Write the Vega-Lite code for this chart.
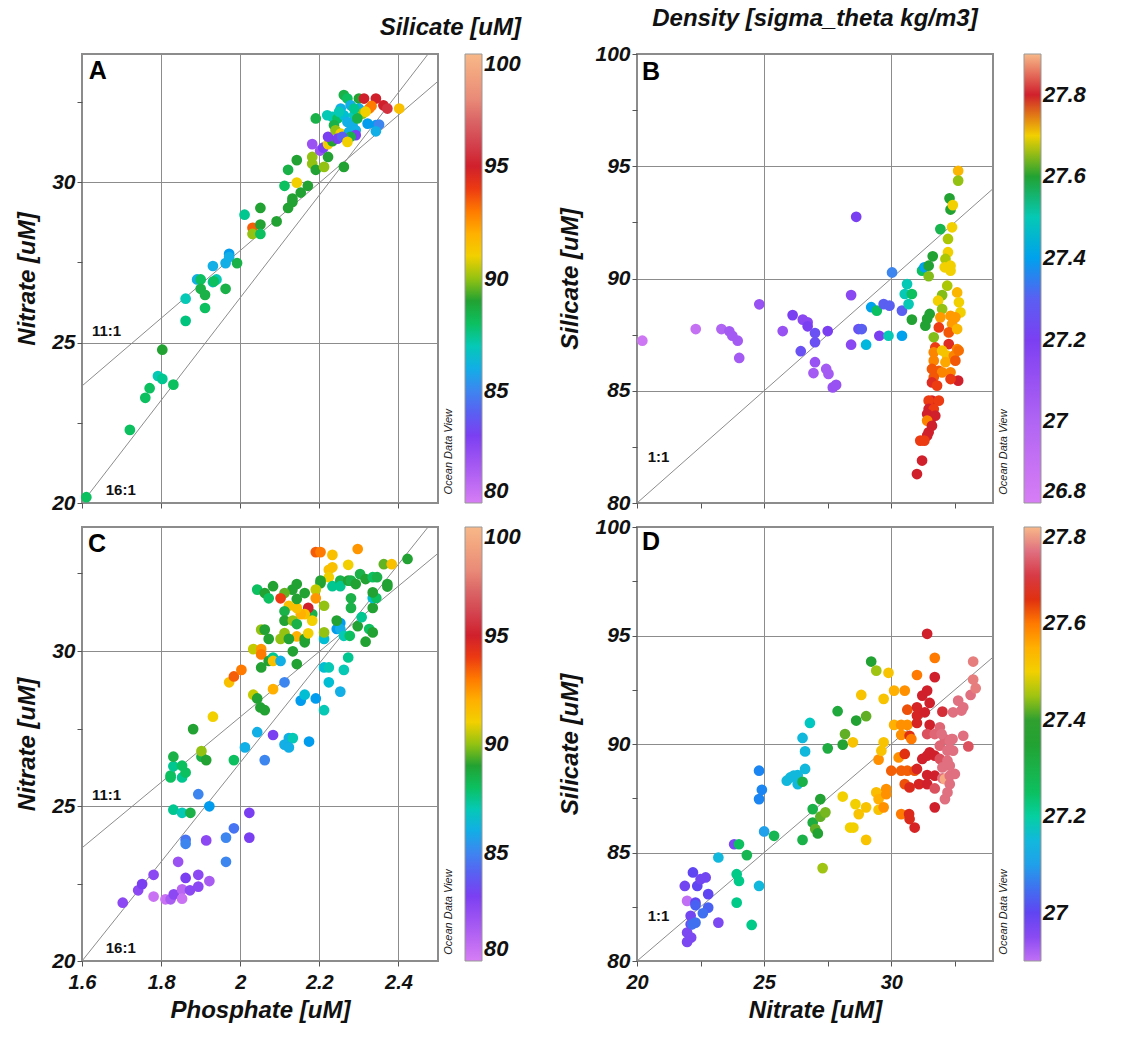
{
"$schema": "https://vega.github.io/schema/vega-lite/v6.json",
"background": "white",
"padding": {"left": 14, "top": 6, "right": 0, "bottom": 0},
"resolve": {"scale": {"color": "independent"}, "legend": {"color": "independent"}},
"config": {
  "font": "Liberation Sans",
  "view": {"stroke": "#8c8c8c", "strokeWidth": 2},
  "axis": {"labelFont": "Liberation Sans", "labelFontSize": 21, "labelFontWeight": "bold", "labelFontStyle": "italic", "labelColor": "#111", "titleFont": "Liberation Sans", "titleFontSize": 24, "titleFontWeight": "bold", "titleFontStyle": "italic", "titleColor": "#111", "domain": false, "tickColor": "#555", "tickSize": 5, "gridColor": "#8c8c8c", "gridWidth": 1, "labelPadding": 2, "titlePadding": 12, "format": "~r", "labelFlush": false},
  "legend": {"orient": "right", "offset": 25, "gradientThickness": 17, "labelFont": "Liberation Sans", "labelFontSize": 22, "labelFontWeight": "bold", "labelFontStyle": "italic", "labelColor": "#111", "labelOffset": 6, "gradientStrokeColor": "#999", "gradientStrokeWidth": 1, "format": "~r"},
  "title": {"font": "Liberation Sans", "fontSize": 24, "fontWeight": "bold", "fontStyle": "italic", "color": "#111", "offset": 12}
},
"datasets": {
  "ratioPN": [{"P":1.6,"N":20,"ratio":"16:1"},{"P":2.475,"N":34,"ratio":"16:1"},{"P":1.6,"N":23.65,"ratio":"11:1"},{"P":2.5,"N":33.15,"ratio":"11:1"}],
  "ratioNS": [{"N":20,"Si":80,"ratio":"1:1"},{"N":34,"Si":94,"ratio":"1:1"}],
  "labelsPN": [{"P":1.662,"N":25.36,"ratio":"11:1"},{"P":1.698,"N":20.42,"ratio":"16:1"}],
  "labelsNS": [{"N":20.85,"Si":82.06,"ratio":"1:1"}],
  "A": [
{"P":1.611,"N":20.18,"Si":88},{"P":1.721,"N":22.28,"Si":88},{"P":1.760,"N":23.28,"Si":88},{"P":1.771,"N":23.58,"Si":88},{"P":1.792,"N":23.96,"Si":87},{"P":1.803,"N":23.87,"Si":87.5},{"P":1.803,"N":24.78,"Si":89},{"P":1.831,"N":23.69,"Si":88},{"P":1.862,"N":25.68,"Si":87.7},{"P":1.862,"N":26.37,"Si":87},{"P":1.891,"N":26.97,"Si":86},{"P":1.900,"N":26.97,"Si":88},{"P":1.900,"N":26.68,"Si":88.5},{"P":1.911,"N":26.49,"Si":88.5},{"P":1.911,"N":26.08,"Si":88},{"P":1.931,"N":27.39,"Si":86},{"P":1.931,"N":26.89,"Si":86.5},{"P":1.940,"N":26.97,"Si":87},{"P":1.933,"N":26.91,"Si":88},{"P":1.963,"N":26.68,"Si":88.5},{"P":1.963,"N":27.48,"Si":86},{"P":1.972,"N":27.77,"Si":85.5},{"P":1.972,"N":27.67,"Si":86},{"P":1.992,"N":27.48,"Si":88.5},{"P":2.011,"N":28.99,"Si":87.5},{"P":2.031,"N":28.58,"Si":93.5},{"P":2.031,"N":28.39,"Si":90},{"P":2.051,"N":28.68,"Si":89},{"P":2.051,"N":28.39,"Si":88},{"P":2.051,"N":29.20,"Si":89},{"P":2.092,"N":28.78,"Si":89},{"P":2.112,"N":29.89,"Si":88},{"P":2.121,"N":30.39,"Si":88.5},{"P":2.121,"N":29.20,"Si":89},{"P":2.132,"N":29.49,"Si":89},{"P":2.132,"N":29.39,"Si":89},{"P":2.143,"N":29.99,"Si":91},{"P":2.143,"N":30.69,"Si":89},{"P":2.153,"N":29.68,"Si":89},{"P":2.171,"N":29.89,"Si":89},{"P":2.182,"N":30.58,"Si":90},{"P":2.182,"N":30.79,"Si":90},{"P":2.191,"N":30.39,"Si":89},{"P":2.191,"N":31.99,"Si":88.5},{"P":2.182,"N":31.19,"Si":82},{"P":2.202,"N":30.99,"Si":82},{"P":2.210,"N":31.08,"Si":83},{"P":2.212,"N":30.48,"Si":90},{"P":2.222,"N":30.79,"Si":89},{"P":2.222,"N":31.19,"Si":91},{"P":2.233,"N":31.28,"Si":89},{"P":2.222,"N":31.42,"Si":83},{"P":2.262,"N":30.48,"Si":89},{"P":2.262,"N":32.72,"Si":88.5},{"P":2.271,"N":32.61,"Si":88},{"P":2.300,"N":32.61,"Si":89},{"P":2.313,"N":32.61,"Si":95},{"P":2.343,"N":32.61,"Si":95},{"P":2.362,"N":32.40,"Si":95},{"P":2.372,"N":32.30,"Si":95.5},{"P":2.402,"N":32.30,"Si":91.5},{"P":2.326,"N":32.30,"Si":93},{"P":2.332,"N":32.38,"Si":93},{"P":2.254,"N":32.30,"Si":86},{"P":2.279,"N":32.40,"Si":86},{"P":2.300,"N":32.30,"Si":86},{"P":2.220,"N":32.09,"Si":87},{"P":2.233,"N":32.04,"Si":87},{"P":2.246,"N":31.99,"Si":88},{"P":2.262,"N":32.09,"Si":86.5},{"P":2.288,"N":32.09,"Si":87},{"P":2.309,"N":32.14,"Si":90},{"P":2.317,"N":32.20,"Si":91},{"P":2.237,"N":31.78,"Si":88.5},{"P":2.271,"N":31.88,"Si":86},{"P":2.284,"N":31.78,"Si":86},{"P":2.322,"N":31.83,"Si":85.5},{"P":2.343,"N":31.78,"Si":85.5},{"P":2.351,"N":31.80,"Si":85},{"P":2.343,"N":31.59,"Si":86},{"P":2.241,"N":31.62,"Si":90},{"P":2.254,"N":31.52,"Si":91},{"P":2.275,"N":31.57,"Si":86},{"P":2.292,"N":31.62,"Si":86},{"P":2.292,"N":31.47,"Si":83},{"P":2.246,"N":31.36,"Si":83},{"P":2.271,"N":31.36,"Si":91},{"P":2.279,"N":31.42,"Si":88.5},{"P":2.258,"N":31.42,"Si":84},{"P":2.271,"N":31.26,"Si":91},{"P":2.250,"N":32.20,"Si":87},{"P":2.296,"N":31.99,"Si":88.5},{"P":2.288,"N":32.30,"Si":87.5}
  ],
  "C": [
{"P":1.703,"N":21.88,"Si":82.5},{"P":1.742,"N":22.28,"Si":82.5},{"P":1.752,"N":22.48,"Si":83},{"P":1.781,"N":22.78,"Si":82.5},{"P":1.781,"N":22.08,"Si":80.5},{"P":1.811,"N":21.99,"Si":80.5},{"P":1.824,"N":21.99,"Si":81.5},{"P":1.832,"N":22.15,"Si":82.5},{"P":1.853,"N":22.31,"Si":81},{"P":1.853,"N":22.01,"Si":80.5},{"P":1.843,"N":23.20,"Si":82},{"P":1.862,"N":22.68,"Si":83},{"P":1.873,"N":22.28,"Si":82.5},{"P":1.894,"N":22.78,"Si":82.5},{"P":1.894,"N":22.40,"Si":82.5},{"P":1.922,"N":22.58,"Si":81.5},{"P":1.914,"N":23.89,"Si":82.5},{"P":1.862,"N":23.91,"Si":84.5},{"P":1.862,"N":23.78,"Si":85},{"P":1.894,"N":25.38,"Si":85},{"P":1.922,"N":24.99,"Si":85.5},{"P":1.831,"N":24.88,"Si":87.5},{"P":1.853,"N":24.78,"Si":87},{"P":1.874,"N":24.78,"Si":88.5},{"P":1.964,"N":23.20,"Si":85},{"P":1.964,"N":23.98,"Si":85},{"P":1.984,"N":24.28,"Si":84.5},{"P":2.023,"N":24.78,"Si":83},{"P":2.023,"N":23.98,"Si":83},{"P":1.824,"N":25.92,"Si":88},{"P":1.824,"N":25.98,"Si":88},{"P":1.831,"N":26.28,"Si":87.5},{"P":1.831,"N":26.59,"Si":88.5},{"P":1.853,"N":26.30,"Si":88},{"P":1.853,"N":25.92,"Si":87.5},{"P":1.862,"N":26.08,"Si":88},{"P":1.881,"N":27.48,"Si":89},{"P":1.902,"N":26.59,"Si":88.5},{"P":1.902,"N":26.77,"Si":90},{"P":1.914,"N":26.48,"Si":89},{"P":1.931,"N":27.88,"Si":91},{"P":1.972,"N":28.99,"Si":91.5},{"P":1.984,"N":29.18,"Si":93.5},{"P":2.003,"N":29.39,"Si":93},{"P":1.984,"N":26.48,"Si":88},{"P":2.012,"N":26.89,"Si":86},{"P":2.033,"N":28.59,"Si":90.5},{"P":2.043,"N":28.47,"Si":89},{"P":2.051,"N":28.18,"Si":89},{"P":2.062,"N":28.09,"Si":89},{"P":2.043,"N":27.38,"Si":86},{"P":2.062,"N":26.48,"Si":85},{"P":2.083,"N":27.29,"Si":83},{"P":2.083,"N":28.77,"Si":92},{"P":2.033,"N":30.06,"Si":90.5},{"P":2.053,"N":30.06,"Si":92.5},{"P":2.053,"N":29.89,"Si":93},{"P":2.053,"N":29.47,"Si":89},{"P":2.072,"N":29.68,"Si":89},{"P":2.083,"N":29.79,"Si":87.5},{"P":2.083,"N":29.68,"Si":91.5},{"P":2.102,"N":29.68,"Si":86},{"P":2.112,"N":28.99,"Si":85},{"P":2.112,"N":26.98,"Si":86},{"P":2.123,"N":27.19,"Si":86},{"P":2.133,"N":27.19,"Si":87},{"P":2.123,"N":26.89,"Si":86},{"P":2.153,"N":28.40,"Si":85.5},{"P":2.163,"N":28.59,"Si":86.5},{"P":2.174,"N":27.08,"Si":85.5},{"P":2.191,"N":28.47,"Si":85.5},{"P":2.212,"N":28.09,"Si":87},{"P":2.212,"N":29.47,"Si":86.5},{"P":2.224,"N":29.47,"Si":87},{"P":2.224,"N":28.99,"Si":86.5},{"P":2.253,"N":28.69,"Si":86},{"P":2.262,"N":29.39,"Si":87},{"P":2.273,"N":29.79,"Si":87.5},{"P":2.212,"N":30.39,"Si":86.5},{"P":2.244,"N":30.71,"Si":85.5},{"P":2.253,"N":30.90,"Si":85.5},{"P":2.253,"N":30.71,"Si":86},{"P":2.262,"N":30.49,"Si":87},{"P":2.277,"N":30.49,"Si":88},{"P":2.297,"N":30.80,"Si":89},{"P":2.317,"N":30.30,"Si":89},{"P":2.326,"N":30.71,"Si":88},{"P":2.335,"N":30.60,"Si":89},{"P":2.307,"N":31.09,"Si":87.5},{"P":2.335,"N":31.39,"Si":89},{"P":2.335,"N":31.71,"Si":86.5},{"P":2.344,"N":31.71,"Si":88},{"P":2.335,"N":31.89,"Si":89},{"P":2.372,"N":32.16,"Si":89},{"P":2.372,"N":32.08,"Si":89},{"P":2.363,"N":32.80,"Si":89.5},{"P":2.383,"N":32.80,"Si":91.5},{"P":2.423,"N":32.97,"Si":89},{"P":2.297,"N":33.29,"Si":92.5},{"P":2.233,"N":33.10,"Si":91.5},{"P":2.191,"N":33.19,"Si":93.5},{"P":2.203,"N":33.19,"Si":93},{"P":2.224,"N":32.62,"Si":91.5},{"P":2.233,"N":32.70,"Si":91.5},{"P":2.273,"N":32.78,"Si":91},{"P":2.224,"N":32.38,"Si":91},{"P":2.203,"N":32.27,"Si":89},{"P":2.203,"N":32.19,"Si":89},{"P":2.233,"N":32.09,"Si":87.5},{"P":2.253,"N":32.27,"Si":88.5},{"P":2.253,"N":32.09,"Si":87.5},{"P":2.273,"N":32.27,"Si":89},{"P":2.280,"N":32.27,"Si":88.5},{"P":2.292,"N":32.16,"Si":89},{"P":2.303,"N":32.48,"Si":88.5},{"P":2.317,"N":32.32,"Si":89},{"P":2.335,"N":32.38,"Si":88},{"P":2.346,"N":32.38,"Si":88.5},{"P":2.280,"N":31.70,"Si":88.5},{"P":2.280,"N":31.39,"Si":88.5},{"P":2.244,"N":30.98,"Si":89},{"P":2.191,"N":31.98,"Si":90.5},{"P":2.191,"N":31.70,"Si":92.5},{"P":2.212,"N":31.46,"Si":90},{"P":2.212,"N":30.60,"Si":90},{"P":2.182,"N":31.19,"Si":88.5},{"P":2.182,"N":30.98,"Si":91},{"P":2.172,"N":31.39,"Si":95},{"P":2.163,"N":31.19,"Si":91.5},{"P":2.153,"N":31.19,"Si":92},{"P":2.143,"N":31.39,"Si":91.5},{"P":2.143,"N":31.68,"Si":89},{"P":2.143,"N":32.16,"Si":89},{"P":2.132,"N":31.98,"Si":89},{"P":2.163,"N":31.87,"Si":89},{"P":2.112,"N":31.87,"Si":89.5},{"P":2.102,"N":31.70,"Si":94},{"P":2.123,"N":31.46,"Si":91.5},{"P":2.112,"N":31.28,"Si":88.5},{"P":2.112,"N":30.98,"Si":89},{"P":2.133,"N":30.98,"Si":90},{"P":2.143,"N":30.87,"Si":88.5},{"P":2.143,"N":30.47,"Si":92},{"P":2.163,"N":30.39,"Si":89},{"P":2.163,"N":30.28,"Si":89},{"P":2.172,"N":30.57,"Si":91},{"P":2.112,"N":30.58,"Si":90},{"P":2.102,"N":30.39,"Si":90},{"P":2.123,"N":30.39,"Si":89},{"P":2.133,"N":29.99,"Si":89},{"P":2.143,"N":29.58,"Si":89},{"P":2.072,"N":30.39,"Si":89},{"P":2.053,"N":30.69,"Si":90},{"P":2.062,"N":30.69,"Si":89},{"P":2.043,"N":31.98,"Si":88},{"P":2.062,"N":31.87,"Si":89},{"P":2.072,"N":31.70,"Si":88},{"P":2.083,"N":32.09,"Si":89}
  ],
  "B": [
{"N":20.21,"Si":87.23,"Dens":26.85},{"N":22.31,"Si":87.75,"Dens":26.9},{"N":23.32,"Si":87.75,"Dens":27.0},{"N":23.63,"Si":87.65,"Dens":27.05},{"N":23.75,"Si":87.45,"Dens":27.05},{"N":23.96,"Si":87.23,"Dens":27.05},{"N":24.02,"Si":86.46,"Dens":27.05},{"N":24.81,"Si":88.85,"Dens":27.1},{"N":25.73,"Si":87.66,"Dens":27.1},{"N":26.12,"Si":88.37,"Dens":27.2},{"N":26.52,"Si":88.17,"Dens":27.15},{"N":26.71,"Si":88.05,"Dens":27.15},{"N":26.71,"Si":87.87,"Dens":27.2},{"N":26.44,"Si":86.76,"Dens":27.25},{"N":27.0,"Si":87.57,"Dens":27.25},{"N":27.0,"Si":87.16,"Dens":27.25},{"N":27.0,"Si":86.27,"Dens":27.1},{"N":26.94,"Si":85.79,"Dens":27.05},{"N":27.44,"Si":85.97,"Dens":27.05},{"N":27.53,"Si":85.75,"Dens":27.05},{"N":27.70,"Si":85.15,"Dens":27.1},{"N":27.83,"Si":85.26,"Dens":27.1},{"N":27.50,"Si":87.66,"Dens":27.2},{"N":28.42,"Si":89.26,"Dens":27.15},{"N":28.62,"Si":92.75,"Dens":27.2},{"N":28.42,"Si":87.05,"Dens":27.15},{"N":28.71,"Si":87.75,"Dens":27.25},{"N":28.84,"Si":87.75,"Dens":27.3},{"N":29.01,"Si":87.05,"Dens":27.45},{"N":29.21,"Si":88.72,"Dens":27.4},{"N":29.43,"Si":88.57,"Dens":27.55},{"N":29.53,"Si":87.45,"Dens":27.2},{"N":29.70,"Si":88.86,"Dens":27.3},{"N":29.93,"Si":88.79,"Dens":27.3},{"N":29.89,"Si":87.45,"Dens":27.5},{"N":30.03,"Si":90.27,"Dens":27.35},{"N":30.42,"Si":88.57,"Dens":27.3},{"N":30.42,"Si":87.45,"Dens":27.4},{"N":30.53,"Si":89.31,"Dens":27.5},{"N":30.62,"Si":89.75,"Dens":27.5},{"N":30.68,"Si":88.86,"Dens":27.5},{"N":30.81,"Si":89.31,"Dens":27.55},{"N":30.81,"Si":88.17,"Dens":27.6},{"N":31.21,"Si":90.35,"Dens":27.55},{"N":31.30,"Si":90.50,"Dens":27.4},{"N":31.47,"Si":90.57,"Dens":27.6},{"N":31.47,"Si":90.10,"Dens":27.65},{"N":31.63,"Si":90.99,"Dens":27.6},{"N":31.93,"Si":92.20,"Dens":27.57},{"N":32.29,"Si":93.57,"Dens":27.6},{"N":32.33,"Si":93.07,"Dens":27.6},{"N":32.42,"Si":93.27,"Dens":27.7},{"N":32.39,"Si":92.28,"Dens":27.7},{"N":32.23,"Si":91.76,"Dens":27.67},{"N":32.23,"Si":91.17,"Dens":27.7},{"N":32.13,"Si":90.87,"Dens":27.67},{"N":32.10,"Si":90.50,"Dens":27.7},{"N":32.33,"Si":90.57,"Dens":27.7},{"N":32.33,"Si":90.35,"Dens":27.7},{"N":32.63,"Si":94.80,"Dens":27.72},{"N":32.63,"Si":94.36,"Dens":27.66},{"N":31.51,"Si":88.42,"Dens":27.6},{"N":31.41,"Si":88.20,"Dens":27.6},{"N":31.34,"Si":87.90,"Dens":27.6},{"N":32.20,"Si":89.68,"Dens":27.67},{"N":32.0,"Si":89.26,"Dens":27.65},{"N":31.84,"Si":89.01,"Dens":27.7},{"N":32.0,"Si":88.64,"Dens":27.66},{"N":32.59,"Si":89.38,"Dens":27.72},{"N":32.66,"Si":88.94,"Dens":27.7},{"N":32.72,"Si":88.49,"Dens":27.7},{"N":31.67,"Si":87.38,"Dens":27.65},{"N":31.93,"Si":88.27,"Dens":27.74},{"N":31.87,"Si":87.82,"Dens":27.78},{"N":32.33,"Si":88.34,"Dens":27.74},{"N":32.39,"Si":87.97,"Dens":27.74},{"N":32.52,"Si":88.27,"Dens":27.74},{"N":32.26,"Si":87.60,"Dens":27.77},{"N":32.59,"Si":87.75,"Dens":27.72},{"N":31.73,"Si":86.93,"Dens":27.78},{"N":31.67,"Si":86.71,"Dens":27.75},{"N":32.26,"Si":87.08,"Dens":27.79},{"N":32.59,"Si":86.86,"Dens":27.75},{"N":32.0,"Si":86.79,"Dens":27.71},{"N":32.19,"Si":86.56,"Dens":27.71},{"N":32.13,"Si":86.27,"Dens":27.73},{"N":32.46,"Si":86.56,"Dens":27.75},{"N":32.65,"Si":86.79,"Dens":27.76},{"N":31.67,"Si":86.34,"Dens":27.75},{"N":31.60,"Si":85.97,"Dens":27.77},{"N":31.87,"Si":85.89,"Dens":27.77},{"N":32.0,"Si":85.82,"Dens":27.75},{"N":32.33,"Si":85.82,"Dens":27.75},{"N":32.52,"Si":86.34,"Dens":27.77},{"N":32.63,"Si":85.45,"Dens":27.8},{"N":32.33,"Si":85.52,"Dens":27.78},{"N":31.67,"Si":85.60,"Dens":27.77},{"N":31.60,"Si":85.37,"Dens":27.79},{"N":31.80,"Si":85.23,"Dens":27.78},{"N":31.60,"Si":84.56,"Dens":27.8},{"N":31.47,"Si":84.56,"Dens":27.78},{"N":31.87,"Si":84.56,"Dens":27.78},{"N":31.47,"Si":84.19,"Dens":27.8},{"N":31.67,"Si":84.19,"Dens":27.78},{"N":31.41,"Si":83.96,"Dens":27.8},{"N":31.73,"Si":83.89,"Dens":27.8},{"N":31.54,"Si":83.59,"Dens":27.8},{"N":31.41,"Si":83.67,"Dens":27.75},{"N":31.60,"Si":83.44,"Dens":27.8},{"N":31.47,"Si":83.15,"Dens":27.8},{"N":31.41,"Si":83.0,"Dens":27.8},{"N":31.14,"Si":82.78,"Dens":27.78},{"N":31.30,"Si":82.78,"Dens":27.78},{"N":31.21,"Si":81.89,"Dens":27.8},{"N":31.01,"Si":81.29,"Dens":27.8}
  ],
  "D": [
{"N":21.88,"Si":83.46,"Dens":26.98},{"N":21.97,"Si":82.77,"Dens":26.9},{"N":22.11,"Si":82.08,"Dens":26.98},{"N":22.11,"Si":81.69,"Dens":26.98},{"N":21.97,"Si":81.31,"Dens":26.97},{"N":22.13,"Si":81.08,"Dens":26.97},{"N":21.97,"Si":80.88,"Dens":26.97},{"N":22.20,"Si":84.08,"Dens":27.0},{"N":22.37,"Si":83.46,"Dens":27.0},{"N":22.30,"Si":82.69,"Dens":27.0},{"N":22.30,"Si":82.57,"Dens":27.03},{"N":22.50,"Si":83.77,"Dens":26.98},{"N":22.70,"Si":83.85,"Dens":26.98},{"N":22.80,"Si":83.08,"Dens":27.0},{"N":22.80,"Si":82.46,"Dens":27.03},{"N":22.59,"Si":82.20,"Dens":27.05},{"N":22.30,"Si":81.77,"Dens":27.05},{"N":22.17,"Si":81.69,"Dens":27.05},{"N":23.20,"Si":81.77,"Dens":26.97},{"N":23.20,"Si":84.77,"Dens":27.15},{"N":23.82,"Si":85.38,"Dens":26.97},{"N":24.01,"Si":85.38,"Dens":27.25},{"N":23.92,"Si":84.0,"Dens":27.22},{"N":24.01,"Si":83.69,"Dens":27.22},{"N":23.92,"Si":82.69,"Dens":27.22},{"N":24.32,"Si":84.88,"Dens":27.28},{"N":24.51,"Si":81.66,"Dens":27.22},{"N":24.80,"Si":83.46,"Dens":27.15},{"N":24.80,"Si":87.46,"Dens":27.07},{"N":24.80,"Si":88.77,"Dens":27.07},{"N":24.91,"Si":87.89,"Dens":27.07},{"N":25.0,"Si":85.97,"Dens":27.1},{"N":25.39,"Si":85.77,"Dens":27.28},{"N":25.89,"Si":88.31,"Dens":27.15},{"N":26.03,"Si":88.46,"Dens":27.15},{"N":26.16,"Si":88.54,"Dens":27.15},{"N":26.32,"Si":88.57,"Dens":27.15},{"N":26.32,"Si":88.15,"Dens":27.15},{"N":26.51,"Si":88.26,"Dens":27.3},{"N":26.51,"Si":90.28,"Dens":27.15},{"N":26.61,"Si":89.66,"Dens":27.15},{"N":26.61,"Si":88.85,"Dens":27.15},{"N":26.80,"Si":90.97,"Dens":27.18},{"N":26.51,"Si":85.58,"Dens":27.3},{"N":26.91,"Si":87.0,"Dens":27.3},{"N":26.91,"Si":86.38,"Dens":27.32},{"N":27.01,"Si":86.08,"Dens":27.42},{"N":27.11,"Si":85.88,"Dens":27.35},{"N":27.21,"Si":87.46,"Dens":27.35},{"N":27.21,"Si":86.65,"Dens":27.42},{"N":27.41,"Si":86.85,"Dens":27.43},{"N":27.30,"Si":84.28,"Dens":27.45},{"N":27.50,"Si":89.80,"Dens":27.32},{"N":27.89,"Si":91.51,"Dens":27.33},{"N":28.09,"Si":89.97,"Dens":27.35},{"N":28.18,"Si":90.46,"Dens":27.42},{"N":28.09,"Si":87.58,"Dens":27.5},{"N":28.38,"Si":86.15,"Dens":27.5},{"N":28.51,"Si":86.15,"Dens":27.5},{"N":28.59,"Si":87.23,"Dens":27.5},{"N":28.72,"Si":86.77,"Dens":27.52},{"N":28.49,"Si":90.08,"Dens":27.52},{"N":28.62,"Si":91.08,"Dens":27.35},{"N":28.82,"Si":92.26,"Dens":27.52},{"N":29.01,"Si":91.28,"Dens":27.42},{"N":29.01,"Si":87.08,"Dens":27.52},{"N":29.01,"Si":85.58,"Dens":27.52},{"N":29.21,"Si":93.80,"Dens":27.35},{"N":29.41,"Si":93.38,"Dens":27.45},{"N":29.41,"Si":87.77,"Dens":27.53},{"N":29.50,"Si":87.46,"Dens":27.55},{"N":29.50,"Si":86.97,"Dens":27.52},{"N":29.50,"Si":89.28,"Dens":27.58},{"N":29.61,"Si":89.69,"Dens":27.52},{"N":29.70,"Si":92.08,"Dens":27.52},{"N":29.70,"Si":90.08,"Dens":27.52},{"N":29.70,"Si":87.08,"Dens":27.58},{"N":29.80,"Si":87.92,"Dens":27.58},{"N":29.80,"Si":87.69,"Dens":27.58},{"N":29.89,"Si":93.28,"Dens":27.52},{"N":30.0,"Si":88.77,"Dens":27.62},{"N":30.11,"Si":92.46,"Dens":27.55},{"N":30.11,"Si":90.88,"Dens":27.55},{"N":30.29,"Si":89.38,"Dens":27.58},{"N":30.39,"Si":90.42,"Dens":27.58},{"N":30.39,"Si":90.88,"Dens":27.58},{"N":30.39,"Si":88.77,"Dens":27.62},{"N":30.39,"Si":86.77,"Dens":27.6},{"N":30.53,"Si":92.46,"Dens":27.58},{"N":30.53,"Si":89.54,"Dens":27.65},{"N":30.53,"Si":88.15,"Dens":27.63},{"N":30.63,"Si":88.77,"Dens":27.62},{"N":30.63,"Si":90.88,"Dens":27.58},{"N":30.63,"Si":91.58,"Dens":27.63},{"N":30.72,"Si":90.38,"Dens":27.65},{"N":30.70,"Si":86.77,"Dens":27.66},{"N":30.72,"Si":86.54,"Dens":27.66},{"N":30.72,"Si":88.0,"Dens":27.66},{"N":30.79,"Si":90.23,"Dens":27.6},{"N":30.92,"Si":86.15,"Dens":27.67},{"N":30.92,"Si":88.77,"Dens":27.63},{"N":31.01,"Si":93.18,"Dens":27.6},{"N":31.01,"Si":91.31,"Dens":27.67},{"N":31.01,"Si":90.97,"Dens":27.67},{"N":31.01,"Si":88.85,"Dens":27.67},{"N":31.09,"Si":88.15,"Dens":27.67},{"N":31.01,"Si":91.69,"Dens":27.67},{"N":31.22,"Si":92.23,"Dens":27.68},{"N":31.22,"Si":89.31,"Dens":27.68},{"N":31.32,"Si":91.46,"Dens":27.68},{"N":31.41,"Si":95.08,"Dens":27.68},{"N":31.41,"Si":92.46,"Dens":27.68},{"N":31.41,"Si":89.46,"Dens":27.68},{"N":31.41,"Si":88.57,"Dens":27.68},{"N":31.41,"Si":88.15,"Dens":27.68},{"N":31.51,"Si":91.89,"Dens":27.68},{"N":31.51,"Si":90.88,"Dens":27.68},{"N":31.41,"Si":90.46,"Dens":27.72},{"N":31.51,"Si":89.62,"Dens":27.68},{"N":31.71,"Si":93.97,"Dens":27.6},{"N":31.71,"Si":93.08,"Dens":27.68},{"N":31.71,"Si":89.46,"Dens":27.68},{"N":31.71,"Si":88.54,"Dens":27.68},{"N":31.71,"Si":87.95,"Dens":27.72},{"N":31.71,"Si":87.08,"Dens":27.68},{"N":31.71,"Si":90.46,"Dens":27.74},{"N":31.91,"Si":90.77,"Dens":27.74},{"N":31.91,"Si":89.92,"Dens":27.74},{"N":31.91,"Si":89.31,"Dens":27.72},{"N":32.01,"Si":91.49,"Dens":27.69},{"N":32.01,"Si":88.92,"Dens":27.75},{"N":32.01,"Si":88.42,"Dens":27.75},{"N":32.11,"Si":90.23,"Dens":27.74},{"N":32.11,"Si":88.38,"Dens":27.79},{"N":32.21,"Si":89.69,"Dens":27.75},{"N":32.21,"Si":89.23,"Dens":27.75},{"N":32.21,"Si":87.77,"Dens":27.75},{"N":32.11,"Si":87.46,"Dens":27.75},{"N":32.30,"Si":90.15,"Dens":27.75},{"N":32.30,"Si":89.77,"Dens":27.75},{"N":32.30,"Si":89.0,"Dens":27.75},{"N":32.30,"Si":88.54,"Dens":27.75},{"N":32.30,"Si":88.15,"Dens":27.75},{"N":32.41,"Si":90.23,"Dens":27.75},{"N":32.43,"Si":91.46,"Dens":27.75},{"N":32.63,"Si":92.0,"Dens":27.75},{"N":32.76,"Si":91.54,"Dens":27.75},{"N":32.43,"Si":89.69,"Dens":27.75},{"N":32.50,"Si":88.62,"Dens":27.75},{"N":32.83,"Si":91.69,"Dens":27.75},{"N":32.83,"Si":90.38,"Dens":27.75},{"N":33.03,"Si":89.89,"Dens":27.72},{"N":33.12,"Si":92.26,"Dens":27.75},{"N":33.22,"Si":93.80,"Dens":27.76},{"N":33.22,"Si":92.97,"Dens":27.76},{"N":33.32,"Si":92.57,"Dens":27.76},{"N":32.37,"Si":90.23,"Dens":27.75},{"N":31.98,"Si":90.46,"Dens":27.75}
  ]
},
"columns": 2,
"spacing": {"row": 1, "column": 35},
"concat": [
 {
  "width": 356, "height": 449,
  "title": {"text": "Silicate [uM]", "anchor": "end"},
  "layer": [
   {"data": {"name": "ratioPN"}, "mark": {"type": "line", "color": "#8c8c8c", "strokeWidth": 1},
    "encoding": {
     "x": {"field": "P", "type": "quantitative", "scale": {"domain": [1.6, 2.5], "nice": false, "zero": false},
           "axis": {"title": null, "labels": false, "values": [1.6,1.7,1.8,1.9,2,2.1,2.2,2.3,2.4,2.5], "gridOpacity": {"condition": {"test": "abs(datum.value*5-round(datum.value*5))>0.01", "value": 0}, "value": 1}}},
     "y": {"field": "N", "type": "quantitative", "scale": {"domain": [20, 34], "nice": false, "zero": false},
           "axis": {"title": "Nitrate [uM]", "values": [20,22.5,25,27.5,30,32.5], "labelExpr": "datum.value%5==0 ? datum.label : ''", "gridOpacity": {"condition": {"test": "datum.value%5!=0", "value": 0}, "value": 1}}},
     "detail": {"field": "ratio"}}},
   {"data": {"name": "A"}, "mark": {"type": "circle", "size": 115, "opacity": 1},
    "encoding": {
     "x": {"field": "P", "type": "quantitative", "scale": {"domain": [1.6, 2.5], "nice": false, "zero": false}},
     "y": {"field": "N", "type": "quantitative", "scale": {"domain": [20, 34], "nice": false, "zero": false}},
     "color": {"field": "Si", "type": "quantitative",
       "scale": {"domain": [80,81.5,83,84,85,86,87,88,89,90,91,92,93,94,95,96.5,98,100], "range": ["#d77ef5","#a85cf2","#7b3ff2","#5a5ff2","#3d86f0","#12aee6","#05c9b5","#0cc060","#22a232","#94c212","#f2d000","#ffb000","#ff7a00","#ec3a12","#d0202c","#d2505e","#e98a78","#f8b888"]},
       "legend": {"title": null, "values": [80,85,90,95,100], "format": "~r", "gradientLength": 449}}}},
   {"data": {"name": "labelsPN"}, "mark": {"type": "text", "fontSize": 15, "fontWeight": "bold", "color": "#111"},
    "encoding": {
     "x": {"field": "P", "type": "quantitative", "scale": {"domain": [1.6, 2.5], "nice": false, "zero": false}},
     "y": {"field": "N", "type": "quantitative", "scale": {"domain": [20, 34], "nice": false, "zero": false}},
     "text": {"field": "ratio"}}},
   {"data": {"values": [{}]}, "mark": {"type": "text", "text": "A", "fontSize": 25, "fontWeight": "bold", "color": "#000"},
    "encoding": {"x": {"datum": 1.64, "type": "quantitative"}, "y": {"datum": 33.47, "type": "quantitative"}}},
   {"data": {"values": [{}]}, "mark": {"type": "text", "text": "Ocean Data View", "angle": 270, "fontSize": 11, "fontStyle": "italic", "color": "#222"},
    "encoding": {"x": {"datum": 2.527, "type": "quantitative"}, "y": {"datum": 21.6, "type": "quantitative"}}}
  ]
 },
 {
  "width": 356, "height": 449,
  "title": {"text": "Density  [sigma_theta kg/m3]", "anchor": "middle"},
  "layer": [
   {"data": {"name": "ratioNS"}, "mark": {"type": "line", "color": "#8c8c8c", "strokeWidth": 1},
    "encoding": {
     "x": {"field": "N", "type": "quantitative", "scale": {"domain": [20, 34], "nice": false, "zero": false},
           "axis": {"title": null, "labels": false, "values": [20,22.5,25,27.5,30,32.5], "gridOpacity": {"condition": {"test": "datum.value%5!=0", "value": 0}, "value": 1}}},
     "y": {"field": "Si", "type": "quantitative", "scale": {"domain": [80, 100], "nice": false, "zero": false},
           "axis": {"title": "Silicate [uM]", "values": [80,82.5,85,87.5,90,92.5,95,97.5,100], "labelExpr": "datum.value%5==0 ? datum.label : ''", "gridOpacity": {"condition": {"test": "datum.value%5!=0", "value": 0}, "value": 1}}},
     "detail": {"field": "ratio"}}},
   {"data": {"name": "B"}, "mark": {"type": "circle", "size": 115, "opacity": 1},
    "encoding": {
     "x": {"field": "N", "type": "quantitative", "scale": {"domain": [20, 34], "nice": false, "zero": false}},
     "y": {"field": "Si", "type": "quantitative", "scale": {"domain": [80, 100], "nice": false, "zero": false}},
     "color": {"field": "Dens", "type": "quantitative",
       "scale": {"domain": [26.8,27.0,27.2,27.3,27.35,27.43,27.5,27.55,27.6,27.66,27.7,27.74,27.78,27.8,27.85,27.9], "range": ["#d77ef5","#b065f3","#7b3ff2","#5a5ff2","#3d86f0","#12aee6","#05c9b5","#0cc060","#22a232","#94c212","#f2d000","#ff9a00","#ec3a12","#d0202c","#d2505e","#f8b888"]},
       "legend": {"title": null, "values": [26.8,27,27.2,27.4,27.6,27.8], "format": "~r", "gradientLength": 449, "offset": 29}}}},
   {"data": {"name": "labelsNS"}, "mark": {"type": "text", "fontSize": 15, "fontWeight": "bold", "color": "#111"},
    "encoding": {
     "x": {"field": "N", "type": "quantitative", "scale": {"domain": [20, 34], "nice": false, "zero": false}},
     "y": {"field": "Si", "type": "quantitative", "scale": {"domain": [80, 100], "nice": false, "zero": false}},
     "text": {"field": "ratio"}}},
   {"data": {"values": [{}]}, "mark": {"type": "text", "text": "B", "fontSize": 25, "fontWeight": "bold", "color": "#000"},
    "encoding": {"x": {"datum": 20.55, "type": "quantitative"}, "y": {"datum": 99.2, "type": "quantitative"}}},
   {"data": {"values": [{}]}, "mark": {"type": "text", "text": "Ocean Data View", "angle": 270, "fontSize": 11, "fontStyle": "italic", "color": "#222"},
    "encoding": {"x": {"datum": 34.45, "type": "quantitative"}, "y": {"datum": 82.27, "type": "quantitative"}}}
  ]
 },
 {
  "width": 356, "height": 434,
  "layer": [
   {"data": {"name": "ratioPN"}, "mark": {"type": "line", "color": "#8c8c8c", "strokeWidth": 1},
    "encoding": {
     "x": {"field": "P", "type": "quantitative", "scale": {"domain": [1.6, 2.5], "nice": false, "zero": false},
           "axis": {"title": "Phosphate [uM]", "labelFontSize": 20, "labelPadding": 6, "titlePadding": 6, "values": [1.6,1.7,1.8,1.9,2,2.1,2.2,2.3,2.4,2.5], "labelExpr": "abs(datum.value*5-round(datum.value*5))>0.01 ? '' : datum.label", "gridOpacity": {"condition": {"test": "abs(datum.value*5-round(datum.value*5))>0.01", "value": 0}, "value": 1}}},
     "y": {"field": "N", "type": "quantitative", "scale": {"domain": [20, 34], "nice": false, "zero": false},
           "axis": {"title": "Nitrate [uM]", "values": [20,22.5,25,27.5,30,32.5], "labelExpr": "datum.value%5==0 ? datum.label : ''", "gridOpacity": {"condition": {"test": "datum.value%5!=0", "value": 0}, "value": 1}}},
     "detail": {"field": "ratio"}}},
   {"data": {"name": "C"}, "mark": {"type": "circle", "size": 115, "opacity": 1},
    "encoding": {
     "x": {"field": "P", "type": "quantitative", "scale": {"domain": [1.6, 2.5], "nice": false, "zero": false}},
     "y": {"field": "N", "type": "quantitative", "scale": {"domain": [20, 34], "nice": false, "zero": false}},
     "color": {"field": "Si", "type": "quantitative",
       "scale": {"domain": [80,81.5,83,84,85,86,87,88,89,90,91,92,93,94,95,96.5,98,100], "range": ["#d77ef5","#a85cf2","#7b3ff2","#5a5ff2","#3d86f0","#12aee6","#05c9b5","#0cc060","#22a232","#94c212","#f2d000","#ffb000","#ff7a00","#ec3a12","#d0202c","#d2505e","#e98a78","#f8b888"]},
       "legend": {"title": null, "values": [80,85,90,95,100], "format": "~r", "gradientLength": 434}}}},
   {"data": {"name": "labelsPN"}, "mark": {"type": "text", "fontSize": 15, "fontWeight": "bold", "color": "#111"},
    "encoding": {
     "x": {"field": "P", "type": "quantitative", "scale": {"domain": [1.6, 2.5], "nice": false, "zero": false}},
     "y": {"field": "N", "type": "quantitative", "scale": {"domain": [20, 34], "nice": false, "zero": false}},
     "text": {"field": "ratio"}}},
   {"data": {"values": [{}]}, "mark": {"type": "text", "text": "C", "fontSize": 25, "fontWeight": "bold", "color": "#000"},
    "encoding": {"x": {"datum": 1.638, "type": "quantitative"}, "y": {"datum": 33.45, "type": "quantitative"}}},
   {"data": {"values": [{}]}, "mark": {"type": "text", "text": "Ocean Data View", "angle": 270, "fontSize": 11, "fontStyle": "italic", "color": "#222"},
    "encoding": {"x": {"datum": 2.527, "type": "quantitative"}, "y": {"datum": 21.58, "type": "quantitative"}}}
  ]
 },
 {
  "width": 356, "height": 434,
  "layer": [
   {"data": {"name": "ratioNS"}, "mark": {"type": "line", "color": "#8c8c8c", "strokeWidth": 1},
    "encoding": {
     "x": {"field": "N", "type": "quantitative", "scale": {"domain": [20, 34], "nice": false, "zero": false},
           "axis": {"title": "Nitrate [uM]", "labelFontSize": 20, "labelPadding": 6, "titlePadding": 6, "values": [20,22.5,25,27.5,30,32.5], "labelExpr": "datum.value%5==0 ? datum.label : ''", "gridOpacity": {"condition": {"test": "datum.value%5!=0", "value": 0}, "value": 1}}},
     "y": {"field": "Si", "type": "quantitative", "scale": {"domain": [80, 100], "nice": false, "zero": false},
           "axis": {"title": "Silicate [uM]", "values": [80,82.5,85,87.5,90,92.5,95,97.5,100], "labelExpr": "datum.value%5==0 ? datum.label : ''", "gridOpacity": {"condition": {"test": "datum.value%5!=0", "value": 0}, "value": 1}}},
     "detail": {"field": "ratio"}}},
   {"data": {"name": "D"}, "mark": {"type": "circle", "size": 115, "opacity": 1},
    "encoding": {
     "x": {"field": "N", "type": "quantitative", "scale": {"domain": [20, 34], "nice": false, "zero": false}},
     "y": {"field": "Si", "type": "quantitative", "scale": {"domain": [80, 100], "nice": false, "zero": false}},
     "color": {"field": "Dens", "type": "quantitative",
       "scale": {"domain": [26.9,26.95,27.0,27.05,27.1,27.15,27.2,27.25,27.35,27.4,27.45,27.5,27.55,27.6,27.65,27.68,27.75,27.8], "range": ["#c070f5","#8a4af2","#6045f2","#4070f0","#20a0ea","#12b8dc","#05d0a0","#0cc060","#22a232","#30a030","#a0c412","#f2d000","#ffb000","#ff7a00","#e03010","#d0202c","#e07080","#f8b888"]},
       "legend": {"title": null, "values": [27,27.2,27.4,27.6,27.8], "format": "~r", "gradientLength": 434, "offset": 29}}}},
   {"data": {"name": "labelsNS"}, "mark": {"type": "text", "fontSize": 15, "fontWeight": "bold", "color": "#111"},
    "encoding": {
     "x": {"field": "N", "type": "quantitative", "scale": {"domain": [20, 34], "nice": false, "zero": false}},
     "y": {"field": "Si", "type": "quantitative", "scale": {"domain": [80, 100], "nice": false, "zero": false}},
     "text": {"field": "ratio"}}},
   {"data": {"values": [{}]}, "mark": {"type": "text", "text": "D", "fontSize": 25, "fontWeight": "bold", "color": "#000"},
    "encoding": {"x": {"datum": 20.55, "type": "quantitative"}, "y": {"datum": 99.3, "type": "quantitative"}}},
   {"data": {"values": [{}]}, "mark": {"type": "text", "text": "Ocean Data View", "angle": 270, "fontSize": 11, "fontStyle": "italic", "color": "#222"},
    "encoding": {"x": {"datum": 34.45, "type": "quantitative"}, "y": {"datum": 82.26, "type": "quantitative"}}}
  ]
 }
]
}
